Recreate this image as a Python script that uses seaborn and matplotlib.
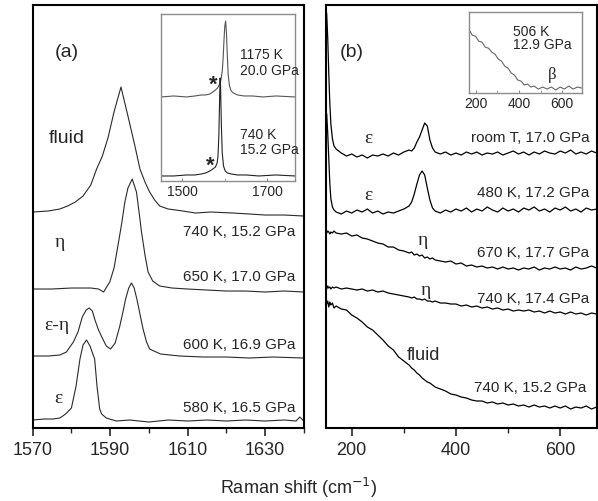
import numpy as np
import matplotlib
matplotlib.use("Agg")
import matplotlib.pyplot as plt
from matplotlib.ticker import FixedLocator, MultipleLocator, NullLocator
import seaborn as sns

# ---- panel (a): C=C stretch region, heights in arbitrary units (stacked) ----
wn_a_fluid = [1570, 1574, 1577, 1579, 1581, 1583, 1585, 1586.5, 1588, 1589.5, 1591, 1592.8, 1594.6, 1596.4,
              1597.7, 1599, 1600.2, 1601.5, 1602.8, 1605, 1608.8, 1612, 1616, 1621.7, 1626, 1630, 1635, 1640]
int_a_fluid = [216, 217, 219, 222, 226, 232, 243, 259, 272, 291, 316, 341, 312, 282,
               259, 246, 236, 228, 222, 219, 217, 215, 216, 215, 214, 213, 213, 212]

wn_a_eta = [1570, 1575, 1580, 1585, 1587, 1588.3, 1589.9, 1591, 1592, 1593, 1593.8, 1594.6, 1595.7, 1596.8,
            1597.5, 1598.1, 1599, 1599.8, 1601, 1602.8, 1606, 1610, 1615, 1620, 1625, 1630, 1635, 1640]
int_a_eta = [139, 139, 140, 140, 139, 136, 146, 160, 182, 205, 226, 240, 249, 236,
             215, 196, 173, 156, 147, 142, 140, 139, 138, 137, 137, 136, 137, 136]

wn_a_mix = [1570, 1574, 1577, 1578.7, 1580.5, 1581.7, 1582.8, 1583.8, 1584.6, 1585.4, 1586, 1587, 1588.1,
            1589, 1590.1, 1591.3, 1592.5, 1593.3, 1594, 1594.8, 1595.5, 1596.2, 1596.9, 1597.7, 1598.5,
            1599.4, 1600.2, 1603, 1608, 1614, 1620, 1626, 1632, 1640]
int_a_mix = [72, 72, 73, 76, 86, 96, 111, 118, 120, 117, 109, 98, 89,
             82, 79, 85, 102, 116, 129, 140, 145, 140, 129, 114, 99,
             86, 79, 74, 72, 71, 71, 70, 71, 70]

wn_a_eps = [1570, 1573, 1575.3, 1577, 1578.5, 1580, 1581.2, 1582.2, 1583, 1583.9, 1584.8, 1586, 1586.6,
            1587.3, 1587.8, 1589, 1591.6, 1595, 1600, 1605, 1610, 1615, 1620, 1625, 1630, 1635, 1638, 1639, 1640]
int_a_eps = [8, 9, 9, 10, 14, 20, 42, 69, 83, 88, 82, 69, 42,
             19, 14, 10, 7, 8, 6, 8, 7, 8, 7, 8, 7, 8, 7, 11, 7]

labels_a = ["740 K, 15.2 GPa", "650 K, 17.0 GPa", "600 K, 16.9 GPa", "580 K, 16.5 GPa"]
label_pos_a = [197, 152, 84, 21]
phases_a = ["fluid", "η", "ε-η", "ε"]
ticks_a = [1570, 1590, 1610, 1630]
minor_a = [1580, 1600, 1620, 1640]

# inset (a): wide range spectra
wn_ia_hot = [1450, 1480, 1510, 1530, 1545, 1555, 1565, 1572, 1578, 1583, 1587, 1591, 1594, 1596, 1598,
             1600, 1602, 1604, 1606, 1608, 1611, 1615, 1620, 1630, 1645, 1665, 1690, 1720, 1765]
int_ia_hot = [84, 85, 84, 85, 86, 86, 87, 89, 91, 93, 96, 101, 110, 122, 140,
              155, 160, 147, 125, 106, 95, 90, 88, 86, 85, 85, 84, 85, 84]
wn_ia_740 = [1450, 1480, 1510, 1530, 1545, 1555, 1565, 1572, 1578, 1582, 1584, 1586, 1588, 1589, 1590,
             1592, 1594, 1597, 1601, 1606, 1615, 1630, 1650, 1680, 1720, 1765]
int_ia_740 = [5, 5, 6, 6, 7, 8, 10, 12, 14, 18, 25, 45, 85, 103, 95,
              55, 28, 15, 10, 8, 7, 6, 6, 5, 6, 5]
ticks_ia = [1500, 1700]
minor_ia = [1600]

# ---- panel (b): low frequency region ----
wn_b = [150, 152, 154, 156, 158, 160, 163, 166, 170,
        180, 190, 200, 210, 220, 230, 240, 250, 260, 270, 280, 290, 300, 310,
        315, 320, 325, 330, 335, 340, 345, 350, 355, 360,
        370, 380, 390, 400, 410, 420, 430, 440, 450, 460, 470, 480, 490, 500, 510, 520,
        530, 540, 550, 560, 570, 580, 590, 600, 610, 620, 630, 640, 650, 660, 670]
int_b_roomT = [421, 414, 389, 354, 324, 304, 289, 282, 279,
               275, 272, 274, 271, 273, 270, 273, 272, 274, 272, 275, 273, 276, 278,
               277, 280, 286, 291, 298, 305, 302, 288, 280, 276,
               274, 276, 273, 275, 273, 276, 274, 276, 273, 275, 274, 276, 273, 275, 277, 274,
               276, 273, 276, 274, 277, 275, 274, 277, 275, 278, 274, 276, 274, 277, 275]
int_b_480 = [317, 314, 294, 269, 244, 229, 221, 218, 216,
             214, 217, 215, 218, 216, 219, 215, 217, 214, 216, 215, 217, 219, 222,
             226, 234, 244, 253, 257, 253, 240, 228, 220, 217,
             215, 218, 216, 219, 217, 220, 216, 219, 217, 221, 218, 216, 220, 217, 219, 216,
             220, 218, 221, 217, 219, 216, 220, 218, 221, 217, 219, 216, 220, 218, 219]
int_b_670 = [197, 195, 197, 196, 194, 196, 195, 197, 195,
             194, 195, 192, 193, 190, 189, 187, 185, 184, 181, 181, 178, 177, 175,
             176, 173, 174, 172, 173, 170, 171, 169, 170, 168,
             167, 166, 167, 164, 165, 162, 163, 161, 162, 160, 161, 159, 161, 159, 160, 158,
             160, 159, 161, 158, 160, 159, 161, 159, 160, 158, 161, 159, 160, 162, 160]
int_b_740 = [141, 139, 142, 140, 141, 139, 141, 140, 141,
             139, 140, 139, 138, 139, 137, 138, 136, 137, 135, 134, 133, 132, 131,
             130, 131, 129, 129, 128, 129, 127, 127, 126, 127,
             125, 125, 124, 124, 122, 123, 121, 122, 120, 121, 119, 120, 118, 119, 117, 118,
             117, 118, 116, 117, 115, 117, 115, 116, 114, 116, 114, 115, 113, 115, 114]
int_b_fluid = [129, 124, 127, 121, 126, 123, 125, 120, 122,
               119, 118, 113, 110, 106, 101, 98, 93, 88, 82, 78, 71, 67, 63,
               60, 58, 55, 53, 50, 48, 46, 45, 43, 41,
               39, 37, 34, 33, 31, 30, 28, 27, 27, 25, 26, 24, 25, 23, 24, 22,
               23, 21, 23, 21, 22, 20, 22, 20, 22, 19, 21, 20, 22, 19, 21]

labels_b = ["room T, 17.0 GPa", "480 K, 17.2 GPa", "670 K, 17.7 GPa", "740 K, 17.4 GPa", "740 K, 15.2 GPa"]
label_pos_b = [291, 236, 176, 130, 41]
label_right_b = [656, 656, 656, 656, 650]
phases_b = ["ε", "ε", "η", "η", "fluid"]
phase_xy_b = [(231, 291), (231, 234), (337, 189), (343, 139), (337, 74)]

# inset (b): beta phase
wn_ib = [175, 185, 200, 215, 230, 245, 260, 275, 290, 305, 320, 335, 350, 365, 380, 395,
         410, 425, 440, 455, 470, 490, 510, 530, 550, 570, 590, 610, 630, 650, 670, 690]
int_ib = [62, 58, 57, 52, 51, 46, 45, 41, 39, 34, 32, 27, 25, 20, 18, 13,
          12, 8, 9, 6, 7, 4, 6, 4, 6, 3, 6, 4, 7, 4, 6, 5]

sns.set_style("ticks")
plt.rcParams['font.family'] = ['Liberation Sans', 'DejaVu Sans']
greek = ['Liberation Serif', 'DejaVu Serif']

fig = plt.figure(figsize=(5.98, 5.02), dpi=100)
ax_a = fig.add_axes([0.0547, 0.1454, 0.4532, 0.8426])
ax_b = fig.add_axes([0.5446, 0.1454, 0.4532, 0.8426])


def style_main(ax):
    for s in ax.spines.values():
        s.set_linewidth(1.5)
        s.set_color('black')
    ax.set_ylim(0, 423)
    ax.yaxis.set_major_locator(NullLocator())
    ax.tick_params(axis='x', which='major', direction='out', length=6, width=1.2, labelsize=13, pad=3)
    ax.tick_params(axis='x', which='minor', direction='out', length=3.5, width=1.0)
    ax.set_xlabel("")
    ax.set_ylabel("")


lc_a = '#2a2a2a'
for wn, it in [(wn_a_fluid, int_a_fluid), (wn_a_eta, int_a_eta), (wn_a_mix, int_a_mix), (wn_a_eps, int_a_eps)]:
    sns.lineplot(x=wn, y=it, ax=ax_a, color=lc_a, lw=0.8, estimator=None, sort=False, legend=False)
ax_a.set_xlim(1570, 1640)
ax_a.xaxis.set_major_locator(FixedLocator(ticks_a))
ax_a.xaxis.set_minor_locator(FixedLocator(minor_a))
style_main(ax_a)
ax_a.text(1578.8, 377, "(a)", fontsize=14, ha='center', va='center')
for lab, yy in zip(labels_a, label_pos_a):
    ax_a.text(1637.8, yy, lab, fontsize=11, ha='right', va='center')
for ph, (xx, yy) in zip(phases_a, [(1578.7, 291), (1577, 187), (1576.3, 104), (1576.5, 31)]):
    if ph == "fluid":
        ax_a.text(xx, yy, ph, fontsize=14, ha='center', va='center')
    else:
        ax_a.text(xx, yy, ph, fontsize=14, ha='center', va='center', family=greek)

for it in [int_b_roomT, int_b_480, int_b_670, int_b_740, int_b_fluid]:
    sns.lineplot(x=wn_b, y=it, ax=ax_b, color='black', lw=0.9, estimator=None, sort=False, legend=False)
ax_b.set_xlim(150, 670)
ax_b.xaxis.set_major_locator(MultipleLocator(200))
ax_b.xaxis.set_minor_locator(MultipleLocator(100))
style_main(ax_b)
ax_b.text(200, 377, "(b)", fontsize=14, ha='center', va='center')
for lab, yy, xr in zip(labels_b, label_pos_b, label_right_b):
    ax_b.text(xr, yy, lab, fontsize=11, ha='right', va='center')
for ph, (xx, yy) in zip(phases_b, phase_xy_b):
    if ph == "fluid":
        ax_b.text(xx, yy, ph, fontsize=13, ha='center', va='center')
    else:
        ax_b.text(xx, yy, ph, fontsize=14, ha='center', va='center', family=greek)

fig.text(0.5, 0.028, "Raman shift (cm$^{-1}$)", fontsize=13, ha='center', va='center')


def style_inset(ax):
    for s in ax.spines.values():
        s.set_linewidth(1.0)
        s.set_color('#8c8c8c')
    ax.yaxis.set_major_locator(NullLocator())
    ax.tick_params(axis='x', which='both', direction='in', length=2.5, color='#8c8c8c', labelsize=10, pad=2)
    ax.set_xlabel("")
    ax.set_ylabel("")


# inset (a)
ins_a = fig.add_axes([0.2692, 0.6375, 0.2241, 0.3327])
sns.lineplot(x=wn_ia_hot, y=int_ia_hot, ax=ins_a, color='#555555', lw=0.8, estimator=None, sort=False, legend=False)
sns.lineplot(x=wn_ia_740, y=int_ia_740, ax=ins_a, color='#222222', lw=0.8, estimator=None, sort=False, legend=False)
ins_a.set_xlim(1450, 1765)
ins_a.set_ylim(0, 167)
ins_a.xaxis.set_major_locator(FixedLocator(ticks_ia))
ins_a.xaxis.set_minor_locator(FixedLocator(minor_ia))
style_inset(ins_a)
ins_a.text(1636, 127, "1175 K", fontsize=10, ha='left', va='center')
ins_a.text(1636, 111, "20.0 GPa", fontsize=10, ha='left', va='center')
ins_a.text(1636, 47, "740 K", fontsize=10, ha='left', va='center')
ins_a.text(1636, 32, "15.2 GPa", fontsize=10, ha='left', va='center')
ins_a.text(1572, 97, "*", fontsize=16, fontweight='bold', ha='center', va='center')
ins_a.text(1565, 16, "*", fontsize=16, fontweight='bold', ha='center', va='center')

# inset (b)
ins_b = fig.add_axes([0.7843, 0.8127, 0.1885, 0.1608])
sns.lineplot(x=wn_ib, y=int_ib, ax=ins_b, color='#666666', lw=0.8, estimator=None, sort=False, legend=False)
ins_b.set_xlim(170, 690)
ins_b.set_ylim(0, 81)
ins_b.xaxis.set_major_locator(MultipleLocator(200))
ins_b.xaxis.set_minor_locator(MultipleLocator(100))
style_inset(ins_b)
ins_b.text(374, 62, "506 K", fontsize=10, ha='left', va='center')
ins_b.text(374, 49, "12.9 GPa", fontsize=10, ha='left', va='center')
ins_b.text(552, 19, "β", fontsize=12, ha='center', va='center', family=greek)

fig.savefig("out.png", dpi=100)
